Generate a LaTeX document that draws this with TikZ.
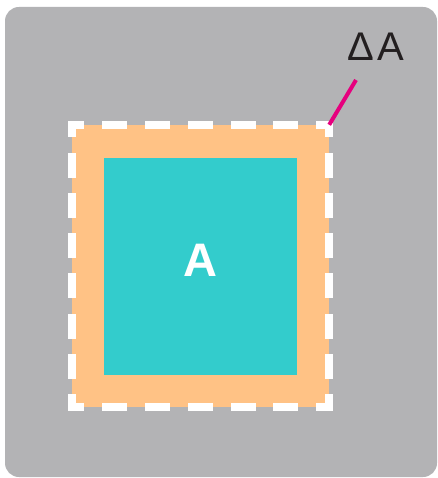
\documentclass[tikz,border=0pt]{standalone}
\usepackage{fontspec}
\newfontfamily\labelfont{Liberation Sans}
\usetikzlibrary{positioning}
\definecolor{panelgray}{HTML}{B3B3B5}
\definecolor{areaorange}{HTML}{FFC285}
\definecolor{coreteal}{HTML}{33CCCC}
\definecolor{pointerpink}{HTML}{E6007E}
\definecolor{labelink}{HTML}{231F20}

\begin{document}
\begin{tikzpicture}[
  x=1pt, y=-1pt,
  panel/.style={fill=panelgray, rounded corners=14pt},
  area/.style={fill=areaorange, inner sep=0pt, minimum width=257pt, minimum height=282pt},
  core/.style={fill=coreteal, inner sep=0pt, minimum width=193pt, minimum height=217pt},
  dashside/.style={draw=white, line width=8pt, line cap=rect,
    dash pattern=on 17pt off #1, dash phase=8.5pt},
  pointer/.style={draw=pointerpink, line width=4pt}
]
\useasboundingbox (0,0) rectangle (437,478);
\fill[panel] (5,7) rectangle (437,477);

\node[area] (deltaarea) at (200.5,266) {};
\node[core] (basearea) at (200.5,266.5) {};
\node[font=\labelfont\bfseries\fontsize{47}{47}\selectfont, text=white, inner sep=0pt]
  (basename) at ([yshift=6.5pt]basearea.center) {A};

% dashed rim, side by side so every corner carries a dash
\draw[dashside=25.83pt] (deltaarea.north west) -- (deltaarea.north east);
\draw[dashside=25.83pt] (deltaarea.south west) -- (deltaarea.south east);
\draw[dashside=23.29pt] (deltaarea.north west) -- (deltaarea.south west);
\draw[dashside=23.29pt] (deltaarea.north east) -- (deltaarea.south east);

\node[font=\labelfont\fontsize{40}{40}\selectfont, text=labelink, inner sep=0pt]
  (deltaname) at (376,47) {Δ\kern3pt A};
\coordinate (pointerend) at (356,80);
\draw[pointer] (pointerend) -- (deltaarea.north east);
\end{tikzpicture}
\end{document}
